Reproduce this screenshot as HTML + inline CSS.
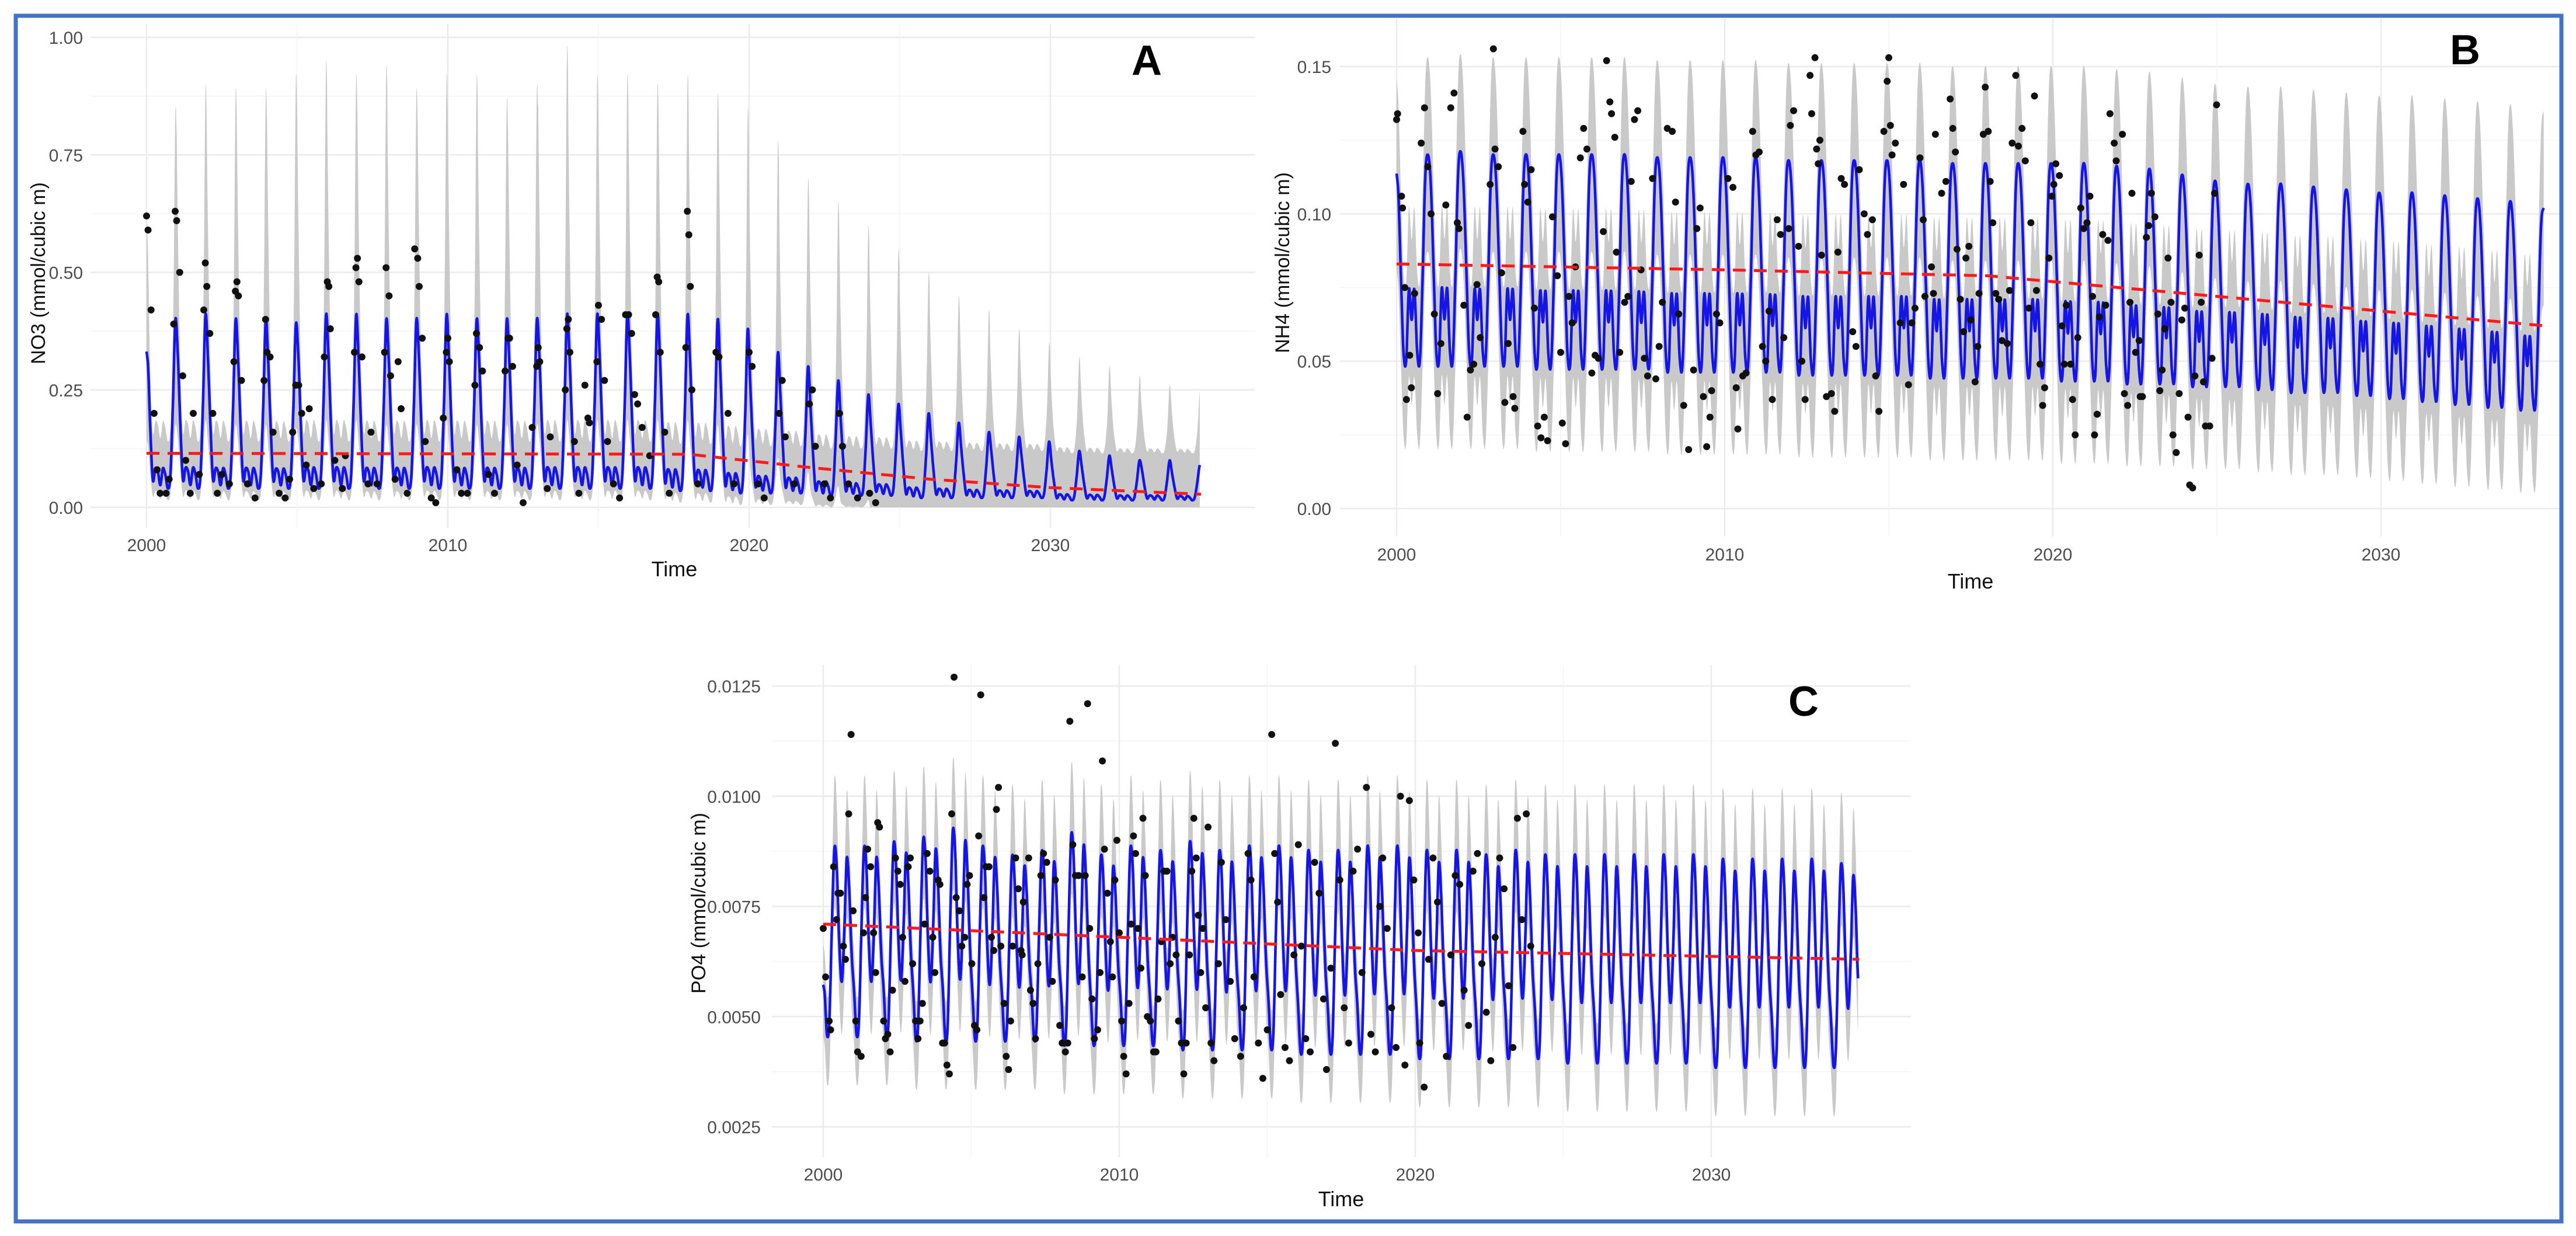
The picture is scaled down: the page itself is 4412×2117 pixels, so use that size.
<!DOCTYPE html>
<html><head><meta charset="utf-8"><style>
html,body{margin:0;padding:0;background:#fff;}
svg{display:block;font-family:"Liberation Sans",Arial,sans-serif;}
</style></head><body>
<svg id="fig" width="4412" height="2117" viewBox="0 0 4412 2117" xmlns="http://www.w3.org/2000/svg">
<defs>
<clipPath id="clipA"><rect x="150" y="34" width="2005" height="875"/></clipPath>
<clipPath id="clipB"><rect x="2290" y="34" width="2094" height="890"/></clipPath>
<clipPath id="clipC"><rect x="1318" y="1134" width="1960" height="853"/></clipPath>
</defs>
<rect x="0" y="0" width="4412" height="2117" fill="#fff"/>
<g id="pA"></g>
<g id="pB"></g>
<g id="pC"></g>
<rect x="27" y="27" width="4360" height="2065" fill="none" stroke="#4472c4" stroke-width="7"/>
<text x="1964" y="128" font-size="72" font-weight="bold" text-anchor="middle">A</text>
<text x="4222" y="110" font-size="72" font-weight="bold" text-anchor="middle">B</text>
<text x="3089" y="1226" font-size="72" font-weight="bold" text-anchor="middle">C</text>
</svg>
<script>
// ---------- DATA ----------
const years = [];
for (let y = 2000; y <= 2034; y++) years.push(y);
const xTicks = [2000, 2010, 2020, 2030];

// NO3 (panel A)
const no3Peak = [0.40,0.41,0.40,0.40,0.39,0.41,0.41,0.40,0.40,0.41,0.40,0.40,0.40,0.41,0.41,0.41,0.41,0.41,0.40,0.38,0.33,0.30,0.27,0.24,0.22,0.20,0.18,0.16,0.15,0.14,0.12,0.11,0.10,0.10,0.09];
const no3Trough = [0.04,0.04,0.04,0.04,0.04,0.04,0.04,0.04,0.04,0.04,0.04,0.04,0.04,0.04,0.04,0.04,0.04,0.035,0.035,0.03,0.03,0.03,0.025,0.025,0.025,0.02,0.02,0.02,0.02,0.02,0.015,0.015,0.015,0.015,0.015];
const no3RibbonTop = [0.85,0.90,0.89,0.89,0.92,0.95,0.92,0.94,0.89,0.92,0.92,0.87,0.90,0.98,0.92,0.92,0.90,0.92,0.88,0.85,0.78,0.70,0.65,0.60,0.55,0.50,0.45,0.42,0.38,0.35,0.32,0.30,0.28,0.26,0.25];
const no3Shape = [0.75,0.35,0.05,0.12,0.10,0.02,0.12,0.08,0.0,0.08,0.5,1.0];
const no3TrendYears = [2000, 2018, 2022, 2026, 2030, 2035];
const no3TrendVals = [0.115, 0.113, 0.085, 0.06, 0.042, 0.028];
const no3ObsT = [2000.0,2000.05,2000.15,2000.25,2000.35,2000.45,2000.65,2000.75,2000.9,2000.95,2001.0,2001.1,2001.2,2001.3,2001.45,2001.55,2001.75,2001.9,2001.95,2002.0,2002.1,2002.2,2002.35,2002.5,2002.75,2002.9,2002.95,2003.0,2003.05,2003.15,2003.35,2003.6,2003.9,2003.95,2004.0,2004.1,2004.2,2004.4,2004.6,2004.75,2004.85,2004.95,2005.05,2005.15,2005.3,2005.4,2005.55,2005.8,2005.9,2006.0,2006.05,2006.1,2006.25,2006.5,2006.6,2006.9,2006.95,2007.0,2007.05,2007.15,2007.35,2007.45,2007.65,2007.9,2007.95,2008.05,2008.1,2008.25,2008.35,2008.45,2008.65,2008.9,2009.0,2009.05,2009.15,2009.25,2009.45,2009.6,2009.85,2009.95,2010.0,2010.05,2010.3,2010.45,2010.65,2010.9,2010.95,2011.05,2011.15,2011.35,2011.55,2011.9,2012.0,2012.05,2012.15,2012.3,2012.5,2012.8,2012.95,2013.0,2013.05,2013.3,2013.4,2013.9,2013.95,2014.0,2014.05,2014.2,2014.35,2014.55,2014.65,2014.7,2014.95,2015.0,2015.1,2015.2,2015.3,2015.5,2015.7,2015.9,2016.0,2016.1,2016.2,2016.3,2016.45,2016.7,2016.9,2016.95,2017.0,2017.05,2017.2,2017.35,2017.9,2017.95,2018.0,2018.05,2018.1,2018.3,2018.9,2019.0,2019.3,2019.5,2020.0,2020.1,2020.3,2020.5,2021.0,2021.1,2021.2,2021.5,2022.0,2022.1,2022.2,2022.5,2022.7,2023.0,2023.1,2023.3,2023.6,2024.0,2024.2];
const no3ObsV = [0.62,0.59,0.42,0.20,0.08,0.03,0.03,0.06,0.39,0.63,0.61,0.50,0.28,0.10,0.03,0.20,0.07,0.42,0.52,0.47,0.37,0.20,0.03,0.07,0.05,0.31,0.46,0.48,0.45,0.27,0.05,0.02,0.27,0.40,0.33,0.32,0.16,0.03,0.02,0.06,0.16,0.26,0.26,0.20,0.09,0.21,0.04,0.05,0.32,0.48,0.47,0.38,0.10,0.04,0.11,0.33,0.51,0.53,0.48,0.32,0.05,0.16,0.05,0.33,0.51,0.45,0.28,0.06,0.31,0.21,0.03,0.55,0.53,0.47,0.36,0.14,0.02,0.01,0.19,0.33,0.36,0.31,0.08,0.03,0.03,0.26,0.37,0.34,0.29,0.07,0.03,0.29,0.36,0.36,0.30,0.09,0.01,0.17,0.30,0.34,0.31,0.04,0.15,0.25,0.38,0.40,0.33,0.14,0.03,0.26,0.19,0.18,0.31,0.43,0.40,0.27,0.14,0.05,0.02,0.41,0.41,0.37,0.24,0.22,0.17,0.11,0.41,0.49,0.48,0.33,0.16,0.03,0.34,0.63,0.58,0.47,0.25,0.05,0.33,0.32,0.20,0.05,0.33,0.30,0.05,0.02,0.20,0.27,0.15,0.05,0.22,0.25,0.13,0.05,0.02,0.20,0.13,0.05,0.02,0.03,0.01];

// NH4 (panel B)
const nh4Peak = [0.120,0.121,0.120,0.120,0.120,0.120,0.120,0.119,0.119,0.119,0.119,0.118,0.118,0.118,0.118,0.118,0.117,0.117,0.117,0.117,0.117,0.116,0.115,0.113,0.111,0.110,0.110,0.109,0.108,0.107,0.107,0.106,0.105,0.104,0.102];
const nh4Trough = [0.050,0.050,0.050,0.050,0.049,0.049,0.049,0.049,0.048,0.048,0.048,0.048,0.047,0.047,0.047,0.047,0.046,0.046,0.046,0.046,0.045,0.045,0.044,0.044,0.043,0.043,0.042,0.041,0.041,0.040,0.039,0.038,0.037,0.036,0.035];
const nh4Shape = [0.85,0.45,0.05,0.0,0.35,0.2,0.35,0.05,0.0,0.4,0.9,1.0];
const nh4TrendYears = [2000, 2010, 2018, 2025, 2035];
const nh4TrendVals = [0.083, 0.081, 0.079, 0.072, 0.062];
const nh4ObsT = [2000.0,2000.03,2000.15,2000.18,2000.25,2000.3,2000.4,2000.45,2000.55,2000.75,2000.85,2000.95,2001.05,2001.15,2001.25,2001.35,2001.5,2001.65,2001.75,2001.85,2001.9,2002.05,2002.15,2002.25,2002.35,2002.45,2002.55,2002.85,2002.95,2003.0,2003.1,2003.2,2003.3,2003.4,2003.55,2003.6,2003.85,2003.9,2004.0,2004.1,2004.2,2004.3,2004.4,2004.5,2004.6,2004.75,2004.9,2005.0,2005.05,2005.15,2005.25,2005.35,2005.45,2005.6,2005.7,2005.8,2005.95,2006.05,2006.15,2006.3,2006.4,2006.5,2006.55,2006.65,2006.7,2006.8,2006.95,2007.05,2007.15,2007.25,2007.35,2007.45,2007.55,2007.65,2007.8,2007.9,2008.0,2008.1,2008.25,2008.4,2008.5,2008.6,2008.75,2008.9,2009.05,2009.15,2009.25,2009.35,2009.45,2009.55,2009.6,2009.75,2009.85,2010.1,2010.25,2010.35,2010.4,2010.55,2010.65,2010.85,2010.95,2011.05,2011.15,2011.25,2011.35,2011.45,2011.6,2011.7,2011.8,2011.95,2012.0,2012.1,2012.25,2012.35,2012.45,2012.6,2012.65,2012.75,2012.8,2012.85,2012.9,2012.95,2013.1,2013.25,2013.35,2013.45,2013.55,2013.65,2013.9,2014.0,2014.1,2014.25,2014.35,2014.5,2014.6,2014.7,2014.85,2014.95,2015.0,2015.05,2015.1,2015.2,2015.35,2015.45,2015.6,2015.7,2015.8,2015.95,2016.05,2016.1,2016.3,2016.36,2016.42,2016.61,2016.74,2016.87,2016.95,2017.03,2017.08,2017.18,2017.28,2017.35,2017.44,2017.5,2017.63,2017.71,2017.75,2017.88,2017.94,2018.03,2018.09,2018.17,2018.26,2018.35,2018.45,2018.61,2018.68,2018.76,2018.87,2018.95,2019.06,2019.16,2019.27,2019.33,2019.44,2019.5,2019.61,2019.69,2019.75,2019.88,2019.97,2020.03,2020.09,2020.2,2020.28,2020.35,2020.41,2020.54,2020.6,2020.68,2020.76,2020.85,2020.94,2021.04,2021.13,2021.21,2021.27,2021.35,2021.42,2021.52,2021.61,2021.68,2021.74,2021.87,2021.93,2022.12,2022.18,2022.28,2022.35,2022.41,2022.52,2022.63,2022.66,2022.73,2022.85,2022.92,2023.0,2023.11,2023.2,2023.26,2023.33,2023.41,2023.51,2023.6,2023.66,2023.76,2023.85,2023.93,2024.02,2024.12,2024.17,2024.26,2024.33,2024.46,2024.52,2024.59,2024.65,2024.78,2024.85,2024.93,2024.99];
const nh4ObsV = [0.132,0.134,0.106,0.102,0.075,0.037,0.052,0.041,0.073,0.124,0.136,0.116,0.100,0.066,0.039,0.056,0.103,0.136,0.141,0.097,0.095,0.069,0.031,0.047,0.049,0.076,0.058,0.110,0.156,0.122,0.116,0.080,0.036,0.056,0.038,0.034,0.128,0.110,0.104,0.115,0.068,0.028,0.024,0.031,0.023,0.099,0.079,0.053,0.029,0.022,0.072,0.063,0.082,0.119,0.129,0.122,0.046,0.052,0.051,0.094,0.152,0.138,0.134,0.126,0.087,0.053,0.070,0.072,0.111,0.132,0.135,0.081,0.051,0.045,0.112,0.044,0.055,0.070,0.129,0.128,0.104,0.066,0.035,0.020,0.047,0.095,0.102,0.038,0.021,0.031,0.040,0.066,0.063,0.112,0.109,0.041,0.027,0.045,0.046,0.128,0.120,0.121,0.055,0.050,0.067,0.037,0.098,0.093,0.058,0.095,0.130,0.135,0.089,0.050,0.037,0.147,0.134,0.153,0.122,0.117,0.125,0.086,0.038,0.039,0.033,0.087,0.112,0.110,0.060,0.055,0.115,0.100,0.093,0.098,0.045,0.033,0.128,0.145,0.153,0.130,0.120,0.124,0.063,0.110,0.042,0.063,0.068,0.119,0.098,0.072,0.082,0.073,0.127,0.107,0.111,0.139,0.129,0.121,0.088,0.071,0.060,0.085,0.089,0.064,0.043,0.055,0.073,0.127,0.143,0.128,0.111,0.097,0.073,0.071,0.057,0.056,0.074,0.124,0.147,0.123,0.129,0.118,0.068,0.097,0.140,0.074,0.049,0.035,0.041,0.085,0.106,0.110,0.117,0.113,0.062,0.049,0.069,0.049,0.037,0.025,0.058,0.102,0.095,0.097,0.106,0.072,0.025,0.032,0.065,0.093,0.069,0.091,0.134,0.124,0.118,0.127,0.039,0.035,0.070,0.107,0.053,0.057,0.038,0.038,0.092,0.096,0.107,0.099,0.066,0.040,0.047,0.061,0.085,0.070,0.025,0.019,0.039,0.064,0.068,0.031,0.008,0.007,0.045,0.086,0.070,0.043,0.028,0.028,0.051,0.107,0.137];

// PO4 (panel C)
const po4Peak = [0.0088,0.0088,0.0089,0.0090,0.0092,0.0088,0.0086,0.0087,0.0091,0.0086,0.0088,0.0087,0.0089,0.0087,0.0088,0.0088,0.0087,0.0087,0.0088,0.0088,0.0087,0.0087,0.0086,0.0087,0.0086,0.0086,0.0086,0.0086,0.0086,0.0086,0.0085,0.0085,0.0085,0.0085,0.0084];
const po4Trough = [0.0045,0.0045,0.0045,0.0044,0.0044,0.0044,0.0044,0.0044,0.0043,0.0043,0.0043,0.0043,0.0042,0.0042,0.0042,0.0042,0.0041,0.0041,0.0041,0.0041,0.0040,0.0040,0.0040,0.0040,0.0040,0.0039,0.0039,0.0039,0.0039,0.0039,0.0038,0.0038,0.0038,0.0038,0.0038];
const po4Shape = [0.25,0.02,0.1,0.6,1.0,0.9,0.5,0.3,0.55,0.95,0.8,0.45];
const po4TrendYears = [2000, 2010, 2020, 2035];
const po4TrendVals = [0.0071, 0.0068, 0.0065, 0.0063];
const po4ObsT = [2000.0,2000.08,2000.2,2000.25,2000.35,2000.45,2000.5,2000.58,2000.68,2000.75,2000.86,2000.94,2001.01,2001.1,2001.16,2001.28,2001.36,2001.43,2001.5,2001.6,2001.7,2001.77,2001.84,2001.9,2002.04,2002.1,2002.18,2002.26,2002.34,2002.44,2002.52,2002.6,2002.68,2002.76,2002.87,2002.94,2003.02,2003.12,2003.2,2003.27,2003.35,2003.42,2003.51,2003.6,2003.7,2003.77,2003.88,2003.94,2004.03,2004.1,2004.18,2004.26,2004.34,2004.42,2004.49,2004.6,2004.68,2004.78,2004.86,2004.94,2005.02,2005.11,2005.19,2005.25,2005.32,2005.43,2005.5,2005.6,2005.68,2005.76,2005.85,2005.92,2006.0,2006.11,2006.18,2006.26,2006.33,2006.4,2006.5,2006.59,2006.68,2006.72,2006.76,2006.94,2007.0,2007.09,2007.17,2007.25,2007.35,2007.44,2007.55,2007.65,2007.74,2007.84,2007.99,2008.07,2008.18,2008.26,2008.33,2008.43,2008.52,2008.63,2008.75,2008.85,2008.93,2009.0,2009.08,2009.16,2009.27,2009.35,2009.43,2009.5,2009.6,2009.7,2009.77,2009.85,2009.92,2010.0,2010.08,2010.15,2010.23,2010.33,2010.4,2010.48,2010.55,2010.63,2010.73,2010.8,2010.88,2010.95,2011.05,2011.16,2011.24,2011.31,2011.42,2011.51,2011.61,2011.72,2011.8,2011.92,2012.0,2012.1,2012.18,2012.26,2012.37,2012.45,2012.52,2012.6,2012.67,2012.75,2012.82,2012.92,2013.0,2013.1,2013.2,2013.35,2013.45,2013.6,2013.75,2013.9,2014.1,2014.2,2014.35,2014.45,2014.55,2014.7,2014.85,2015.0,2015.15,2015.25,2015.35,2015.45,2015.6,2015.75,2015.9,2016.05,2016.15,2016.3,2016.45,2016.6,2016.75,2016.9,2017.0,2017.15,2017.3,2017.45,2017.6,2017.75,2017.9,2018.05,2018.2,2018.35,2018.5,2018.65,2018.8,2018.9,2019.05,2019.2,2019.35,2019.5,2019.65,2019.8,2019.95,2020.1,2020.15,2020.3,2020.45,2020.6,2020.75,2020.9,2021.05,2021.2,2021.35,2021.5,2021.65,2021.8,2021.95,2022.1,2022.25,2022.4,2022.55,2022.7,2022.85,2023.0,2023.15,2023.3,2023.45,2023.6,2023.75,2023.9,2024.05,2024.2,2024.4,2024.55,2024.7,2024.85];
const po4ObsV = [0.0070,0.0059,0.0049,0.0047,0.0084,0.0072,0.0078,0.0078,0.0066,0.0063,0.0096,0.0114,0.0074,0.0049,0.0042,0.0041,0.0069,0.0077,0.0088,0.0084,0.0069,0.0060,0.0094,0.0093,0.0049,0.0045,0.0046,0.0042,0.0056,0.0086,0.0083,0.0080,0.0068,0.0058,0.0084,0.0086,0.0062,0.0049,0.0045,0.0049,0.0053,0.0071,0.0087,0.0083,0.0068,0.0060,0.0081,0.0080,0.0044,0.0044,0.0039,0.0037,0.0096,0.0127,0.0077,0.0074,0.0066,0.0068,0.0080,0.0082,0.0062,0.0048,0.0047,0.0091,0.0123,0.0077,0.0084,0.0084,0.0068,0.0065,0.0097,0.0102,0.0066,0.0053,0.0041,0.0038,0.0049,0.0066,0.0086,0.0079,0.0065,0.0064,0.0076,0.0086,0.0056,0.0053,0.0045,0.0062,0.0082,0.0087,0.0085,0.0068,0.0058,0.0081,0.0048,0.0044,0.0042,0.0044,0.0117,0.0089,0.0082,0.0082,0.0059,0.0082,0.0121,0.0070,0.0054,0.0045,0.0047,0.0060,0.0108,0.0088,0.0078,0.0067,0.0059,0.0081,0.0090,0.0069,0.0049,0.0041,0.0037,0.0053,0.0071,0.0091,0.0087,0.0070,0.0061,0.0095,0.0082,0.0050,0.0049,0.0042,0.0042,0.0054,0.0067,0.0083,0.0083,0.0062,0.0068,0.0064,0.0049,0.0044,0.0037,0.0044,0.0064,0.0083,0.0095,0.0086,0.0073,0.0060,0.0070,0.0052,0.0093,0.0044,0.0040,0.0062,0.0085,0.0072,0.0058,0.0045,0.0041,0.0052,0.0087,0.0081,0.0059,0.0044,0.0036,0.0047,0.0114,0.0087,0.0076,0.0055,0.0043,0.0040,0.0064,0.0089,0.0066,0.0045,0.0042,0.0085,0.0078,0.0054,0.0038,0.0061,0.0112,0.0081,0.0052,0.0044,0.0083,0.0088,0.0060,0.0102,0.0046,0.0042,0.0075,0.0086,0.0070,0.0052,0.0043,0.0100,0.0039,0.0099,0.0081,0.0069,0.0044,0.0034,0.0063,0.0086,0.0076,0.0053,0.0041,0.0064,0.0082,0.0080,0.0056,0.0048,0.0083,0.0087,0.0062,0.0051,0.0040,0.0068,0.0086,0.0079,0.0057,0.0043,0.0095,0.0072,0.0096,0.0066];

// ---------- DRAWING ----------
const NS = 'http://www.w3.org/2000/svg';
function mk(tag, attrs, parent) {
  const e = document.createElementNS(NS, tag);
  for (const k in attrs) e.setAttribute(k, attrs[k]);
  parent.appendChild(e);
  return e;
}
function interp(xs, ys, x) {
  if (x <= xs[0]) return ys[0];
  for (let i = 1; i < xs.length; i++) {
    if (x <= xs[i]) { const f = (x - xs[i-1]) / (xs[i] - xs[i-1]); return ys[i-1] + f * (ys[i] - ys[i-1]); }
  }
  return ys[ys.length - 1];
}
function seasonalKnots(peak, trough, shape) {
  const kt = [], kv = [], ks = [];
  for (let i = 0; i < peak.length; i++) {
    for (let m = 0; m < 12; m++) {
      kt.push(years[i] + (m + 0.5) / 12);
      kv.push(trough[i] + (peak[i] - trough[i]) * shape[m]);
      ks.push(shape[m]);
    }
  }
  return {kt, kv, ks};
}
function hermite(kt, kv, t) {
  let i = 0;
  while (i < kt.length - 2 && t > kt[i + 1]) i++;
  if (t <= kt[0]) { return kv[0] + (kv[1] - kv[0]) * (t - kt[0]) / (kt[1] - kt[0]) * 0.3; }
  if (t >= kt[kt.length - 1]) { const n = kt.length; return kv[n-1] + (kv[n-1] - kv[n-2]) * (t - kt[n-1]) / (kt[n-1] - kt[n-2]) * 0.3; }
  const p0 = kv[Math.max(0, i - 1)], p1 = kv[i], p2 = kv[i + 1], p3 = kv[Math.min(kv.length - 1, i + 2)];
  const u = (t - kt[i]) / (kt[i + 1] - kt[i]);
  const m1 = (p2 - p0) / 2, m2 = (p3 - p1) / 2;
  const u2 = u * u, u3 = u2 * u;
  return (2*u3 - 3*u2 + 1) * p1 + (u3 - 2*u2 + u) * m1 + (-2*u3 + 3*u2) * p2 + (u3 - u2) * m2;
}
function drawPanel(cfg) {
  const g = document.getElementById(cfg.id);
  const X = t => cfg.x0 + (t - 2000) * cfg.pxYear;
  const Y = v => cfg.yZero - (v - cfg.yMin) * cfg.pxUnit;
  const grid = mk('g', {}, g);
  
  
  for (let i = 0; i < cfg.yTicks.length; i++) {
    const v = cfg.yTicks[i];
    mk('line', {x1: cfg.left, x2: cfg.right, y1: Y(v), y2: Y(v), stroke: '#ebebeb', 'stroke-width': 2.5}, grid);
    if (i < cfg.yTicks.length - 1) {
      const mv = (v + cfg.yTicks[i+1]) / 2;
      mk('line', {x1: cfg.left, x2: cfg.right, y1: Y(mv), y2: Y(mv), stroke: '#f4f4f4', 'stroke-width': 1.5}, grid);
    }
  }
  [2005, 2015, 2025].forEach(t => mk('line', {x1: X(t), x2: X(t), y1: cfg.top, y2: cfg.bottom, stroke: '#f4f4f4', 'stroke-width': 1.5}, grid));
  xTicks.forEach(t => mk('line', {x1: X(t), x2: X(t), y1: cfg.top, y2: cfg.bottom, stroke: '#ebebeb', 'stroke-width': 2.5}, grid));

  const plot = mk('g', {'clip-path': 'url(#' + cfg.clip + ')'}, g);
  
  

  const {kt, kv, ks} = seasonalKnots(cfg.peak, cfg.trough, cfg.shape);
  const tt = [], line = [], up = [], lo = [];
  for (let t = 2000; t <= 2034.96; t += 1/96) {
    const v = hermite(kt, kv, t);
    const s = Math.max(0, Math.min(1, hermite(kt, ks, t)));
    const yi = Math.min(cfg.peak.length - 1, Math.floor(t - 2000));
    const top = cfg.ribbonTop ? cfg.ribbonTop[yi] - cfg.peak[yi] : cfg.hwPeak;
    tt.push(t); line.push(v);
    up.push(v + cfg.hwLow + (top - cfg.hwLow) * Math.pow(s, cfg.spikePow));
    lo.push(Math.max(cfg.loFloor, v - cfg.loLow - cfg.loPeak * s));
  }
  let d = '';
  for (let i = 0; i < tt.length; i++) d += (i ? 'L' : 'M') + X(tt[i]).toFixed(1) + ',' + Y(up[i]).toFixed(1);
  for (let i = tt.length - 1; i >= 0; i--) d += 'L' + X(tt[i]).toFixed(1) + ',' + Y(lo[i]).toFixed(1);
  const rib = mk('path', {d: d + 'Z', fill: '#c9c9c9'}, plot);
  
  

  let dl = '';
  for (let i = 0; i < tt.length; i++) dl += (i ? 'L' : 'M') + X(tt[i]).toFixed(1) + ',' + Y(line[i]).toFixed(1);
  const pl = mk('path', {d: dl, fill: 'none', stroke: '#1515e6', 'stroke-width': 4.5, 'stroke-linejoin': 'round'}, plot);
  
  

  const dots = mk('g', {fill: '#111'}, plot);
  
  
  const n = Math.min(cfg.obsT.length, cfg.obsV.length);
  for (let i = 0; i < n; i++) {
    const cy = Y(cfg.obsV[i]);
    if (!(cy > cfg.top && cy < cfg.bottom)) continue;
    const c = mk('circle', {cx: X(cfg.obsT[i]), cy: cy, r: 6}, dots);
    
    
  }

  let dt = '';
  for (let t = 2000; t <= 2035; t += 0.25) dt += (t === 2000 ? 'M' : 'L') + X(t).toFixed(1) + ',' + Y(interp(cfg.trendYears, cfg.trendVals, t)).toFixed(1);
  const tr = mk('path', {d: dt, fill: 'none', stroke: '#ff1a1a', 'stroke-width': 5, 'stroke-dasharray': '22 14'}, plot);
  
  

  cfg.yTicks.forEach((v, i) => {
    const tx = mk('text', {x: cfg.yLabX, y: Y(v) + 11, 'font-size': 30, fill: '#4d4d4d', 'text-anchor': 'end'}, g);
    tx.textContent = cfg.yTickLabels[i];
    
    
  });
  xTicks.forEach(t => {
    const tx = mk('text', {x: X(t), y: cfg.xLabY, 'font-size': 30, fill: '#4d4d4d', 'text-anchor': 'middle'}, g);
    tx.textContent = String(t);
    
    
  });
  const xt = mk('text', {x: cfg.xTitleX, y: cfg.xTitleY, 'font-size': 36, fill: '#111', 'text-anchor': 'middle'}, g);
  xt.textContent = 'Time';
  
  
  const yt = mk('text', {x: 0, y: 0, 'font-size': 34, fill: '#111', 'text-anchor': 'middle', transform: `translate(${cfg.yTitleX},${cfg.yTitleY}) rotate(-90)`}, g);
  yt.textContent = cfg.yTitle;
  
  
}

drawPanel({id: 'pA', clip: 'clipA', x0: 251, pxYear: 51.6, yMin: 0, yZero: 869, pxUnit: 805,
  left: 155, right: 2150, top: 41, bottom: 904,
  yTicks: [0, 0.25, 0.5, 0.75, 1.0], yTickLabels: ['0.00','0.25','0.50','0.75','1.00'],
  peak: no3Peak, trough: no3Trough, shape: no3Shape, ribbonTop: no3RibbonTop,
  hwLow: 0.1, spikePow: 3, loLow: 0.025, loPeak: 0.2, loFloor: 0.0,
  obsT: no3ObsT, obsV: no3ObsV, trendYears: no3TrendYears, trendVals: no3TrendVals,
  yLabX: 142, xLabY: 944, xTitleX: 1155, xTitleY: 987, yTitleX: 77, yTitleY: 468,
  yTitle: 'NO3 (mmol/cubic m)'});

drawPanel({id: 'pB', clip: 'clipB', x0: 2392, pxYear: 56.2, yMin: 0, yZero: 871, pxUnit: 5047,
  left: 2295, right: 4385, top: 32, bottom: 919,
  yTicks: [0, 0.05, 0.10, 0.15], yTickLabels: ['0.00','0.05','0.10','0.15'],
  peak: nh4Peak, trough: nh4Trough, shape: nh4Shape, ribbonTop: null, hwPeak: 0.033,
  hwLow: 0.027, spikePow: 2, loLow: 0.028, loPeak: 0.005, loFloor: -0.01,
  obsT: nh4ObsT, obsV: nh4ObsV, trendYears: nh4TrendYears, trendVals: nh4TrendVals,
  yLabX: 2280, xLabY: 960, xTitleX: 3375, xTitleY: 1008, yTitleX: 2208, yTitleY: 450,
  yTitle: 'NH4 (mmol/cubic m)'});

drawPanel({id: 'pC', clip: 'clipC', x0: 1410, pxYear: 50.7, yMin: 0.0025, yZero: 1930, pxUnit: 75500,
  left: 1322, right: 3273, top: 1139, bottom: 1982,
  yTicks: [0.0025, 0.005, 0.0075, 0.01, 0.0125], yTickLabels: ['0.0025','0.0050','0.0075','0.0100','0.0125'],
  peak: po4Peak, trough: po4Trough, shape: po4Shape, ribbonTop: null, hwPeak: 0.0016,
  hwLow: 0.0009, spikePow: 3, loLow: 0.0011, loPeak: 0.0003, loFloor: 0.002,
  obsT: po4ObsT, obsV: po4ObsV, trendYears: po4TrendYears, trendVals: po4TrendVals,
  yLabX: 1303, xLabY: 2022, xTitleX: 2297, xTitleY: 2066, yTitleX: 1208, yTitleY: 1547,
  yTitle: 'PO4 (mmol/cubic m)'});
</script>
</body></html>
